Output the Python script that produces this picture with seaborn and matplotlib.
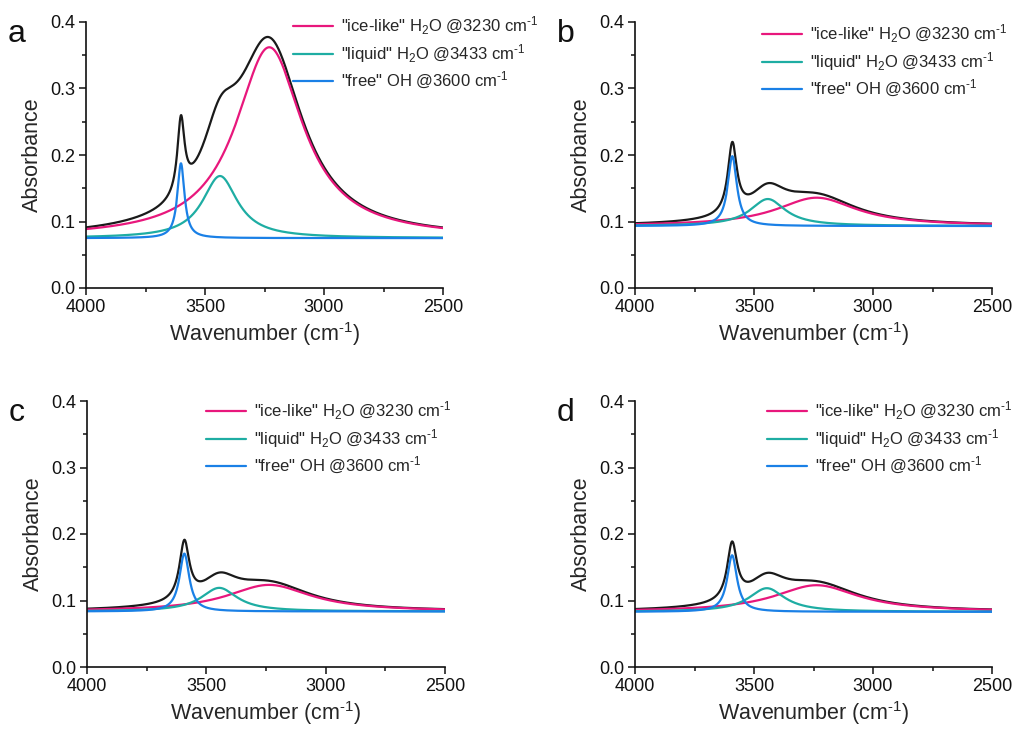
import numpy as np
import pandas as pd
import matplotlib
matplotlib.use("Agg")
import matplotlib.pyplot as plt
import seaborn as sns
from matplotlib.ticker import MultipleLocator, FormatStrFormatter

# ---- data (Lorentzian component parameters) ----
panels = ["a", "b", "c", "d"]
components = ['"ice-like" H$_2$O @3230 cm$^{\\text{-}1}$',
              '"liquid" H$_2$O @3433 cm$^{\\text{-}1}$',
              '"free" OH @3600 cm$^{\\text{-}1}$']
baseline = [0.0750, 0.0932, 0.0835, 0.0830]
# peak centres (cm-1)
centre_ice = [3230, 3237, 3237, 3237]
centre_liq = [3437, 3442, 3446, 3446]
centre_free = [3601, 3591, 3592, 3592]
# peak heights above baseline
height_ice = [0.287, 0.0426, 0.0400, 0.0400]
height_liq = [0.0934, 0.0406, 0.0355, 0.0355]
height_free = [0.1125, 0.1050, 0.0870, 0.0850]
# half widths at half maximum (cm-1)
hwhm_ice = [172, 205, 215, 215]
hwhm_liq = [90, 90, 92, 92]
hwhm_free = [18, 23, 25, 25]
wavenumber = np.linspace(4000, 2500, 1501)

colors = {components[0]: "#E8177C", components[1]: "#1EADA3",
          components[2]: "#1A80E6", "sum": "#1a1a1a"}

sns.set_theme(style="ticks")
plt.rcParams["font.family"] = ["Liberation Sans", "DejaVu Sans"]
plt.rcParams["mathtext.fontset"] = "custom"
plt.rcParams["mathtext.rm"] = "Liberation Sans"
plt.rcParams["mathtext.it"] = "Liberation Sans:italic"
plt.rcParams["mathtext.bf"] = "Liberation Sans:bold"


def lor(x, c, a, g):
    return a * g ** 2 / ((x - c) ** 2 + g ** 2)


fig = plt.figure(figsize=(10.15, 7.29), dpi=100)
W, H = 1015, 729
boxes = [(86, 22, 443, 288), (635, 22, 992, 288),
         (87, 401, 445, 667), (635, 401, 992, 667)]
leg_pos = [(293, 15), (762, 23), (206, 400), (767, 400)]

for i, p in enumerate(panels):
    x0, y0, x1, y1 = boxes[i]
    ax = fig.add_axes([x0 / W, 1 - y1 / H, (x1 - x0) / W, (y1 - y0) / H])
    b = baseline[i]
    comps = [lor(wavenumber, centre_ice[i], height_ice[i], hwhm_ice[i]),
             lor(wavenumber, centre_liq[i], height_liq[i], hwhm_liq[i]),
             lor(wavenumber, centre_free[i], height_free[i], hwhm_free[i])]
    total = b + sum(comps)
    frames = [pd.DataFrame({"x": wavenumber, "y": total, "comp": "sum"})]
    for name, cy in zip(components, comps):
        frames.append(pd.DataFrame({"x": wavenumber, "y": b + cy, "comp": name}))
    df = pd.concat(frames, ignore_index=True)
    sns.lineplot(data=df[df.comp == "sum"], x="x", y="y", color=colors["sum"],
                 lw=1.6, ax=ax, legend=False)
    sns.lineplot(data=df[df.comp != "sum"], x="x", y="y", hue="comp",
                 hue_order=components, palette=colors, lw=1.6, ax=ax,
                 legend=True)
    ax.set_xlim(4000, 2500)
    ax.set_ylim(0, 0.4)
    ax.xaxis.set_major_locator(MultipleLocator(500))
    ax.xaxis.set_minor_locator(MultipleLocator(250))
    ax.yaxis.set_major_locator(MultipleLocator(0.1))
    ax.yaxis.set_minor_locator(MultipleLocator(0.05))
    ax.yaxis.set_major_formatter(FormatStrFormatter("%.1f"))
    ax.tick_params(which="major", length=5, width=1.1, direction="out",
                   labelsize=13, pad=3, color="#111111", labelcolor="#111111")
    ax.tick_params(which="minor", length=3, width=1.1, direction="out",
                   color="#111111")
    for s in ["left", "bottom"]:
        ax.spines[s].set_linewidth(1.2)
        ax.spines[s].set_color("#111111")
    sns.despine(ax=ax)
    ax.set_xlabel("Wavenumber (cm$^{\\text{-}1}$)", fontsize=15.5, labelpad=3)
    ax.set_ylabel("Absorbance", fontsize=15.5, labelpad=5)
    handles, labels = ax.get_legend_handles_labels()
    lx, ly = leg_pos[i]
    leg = ax.legend(handles, labels, loc="upper left",
                    bbox_to_anchor=(lx / W, 1 - ly / H),
                    bbox_transform=fig.transFigure, frameon=False,
                    fontsize=12, handlelength=2.4, handletextpad=0.5,
                    borderpad=0, borderaxespad=0, labelspacing=0.3)
    for lh in leg.get_lines():
        lh.set_linewidth(1.6)
    fig.text((x0 - 78) / W, 1 - (y0 + 12) / H, p, fontsize=23,
             ha="left", va="center", color="#111111")

fig.savefig("out.png", dpi=100)
